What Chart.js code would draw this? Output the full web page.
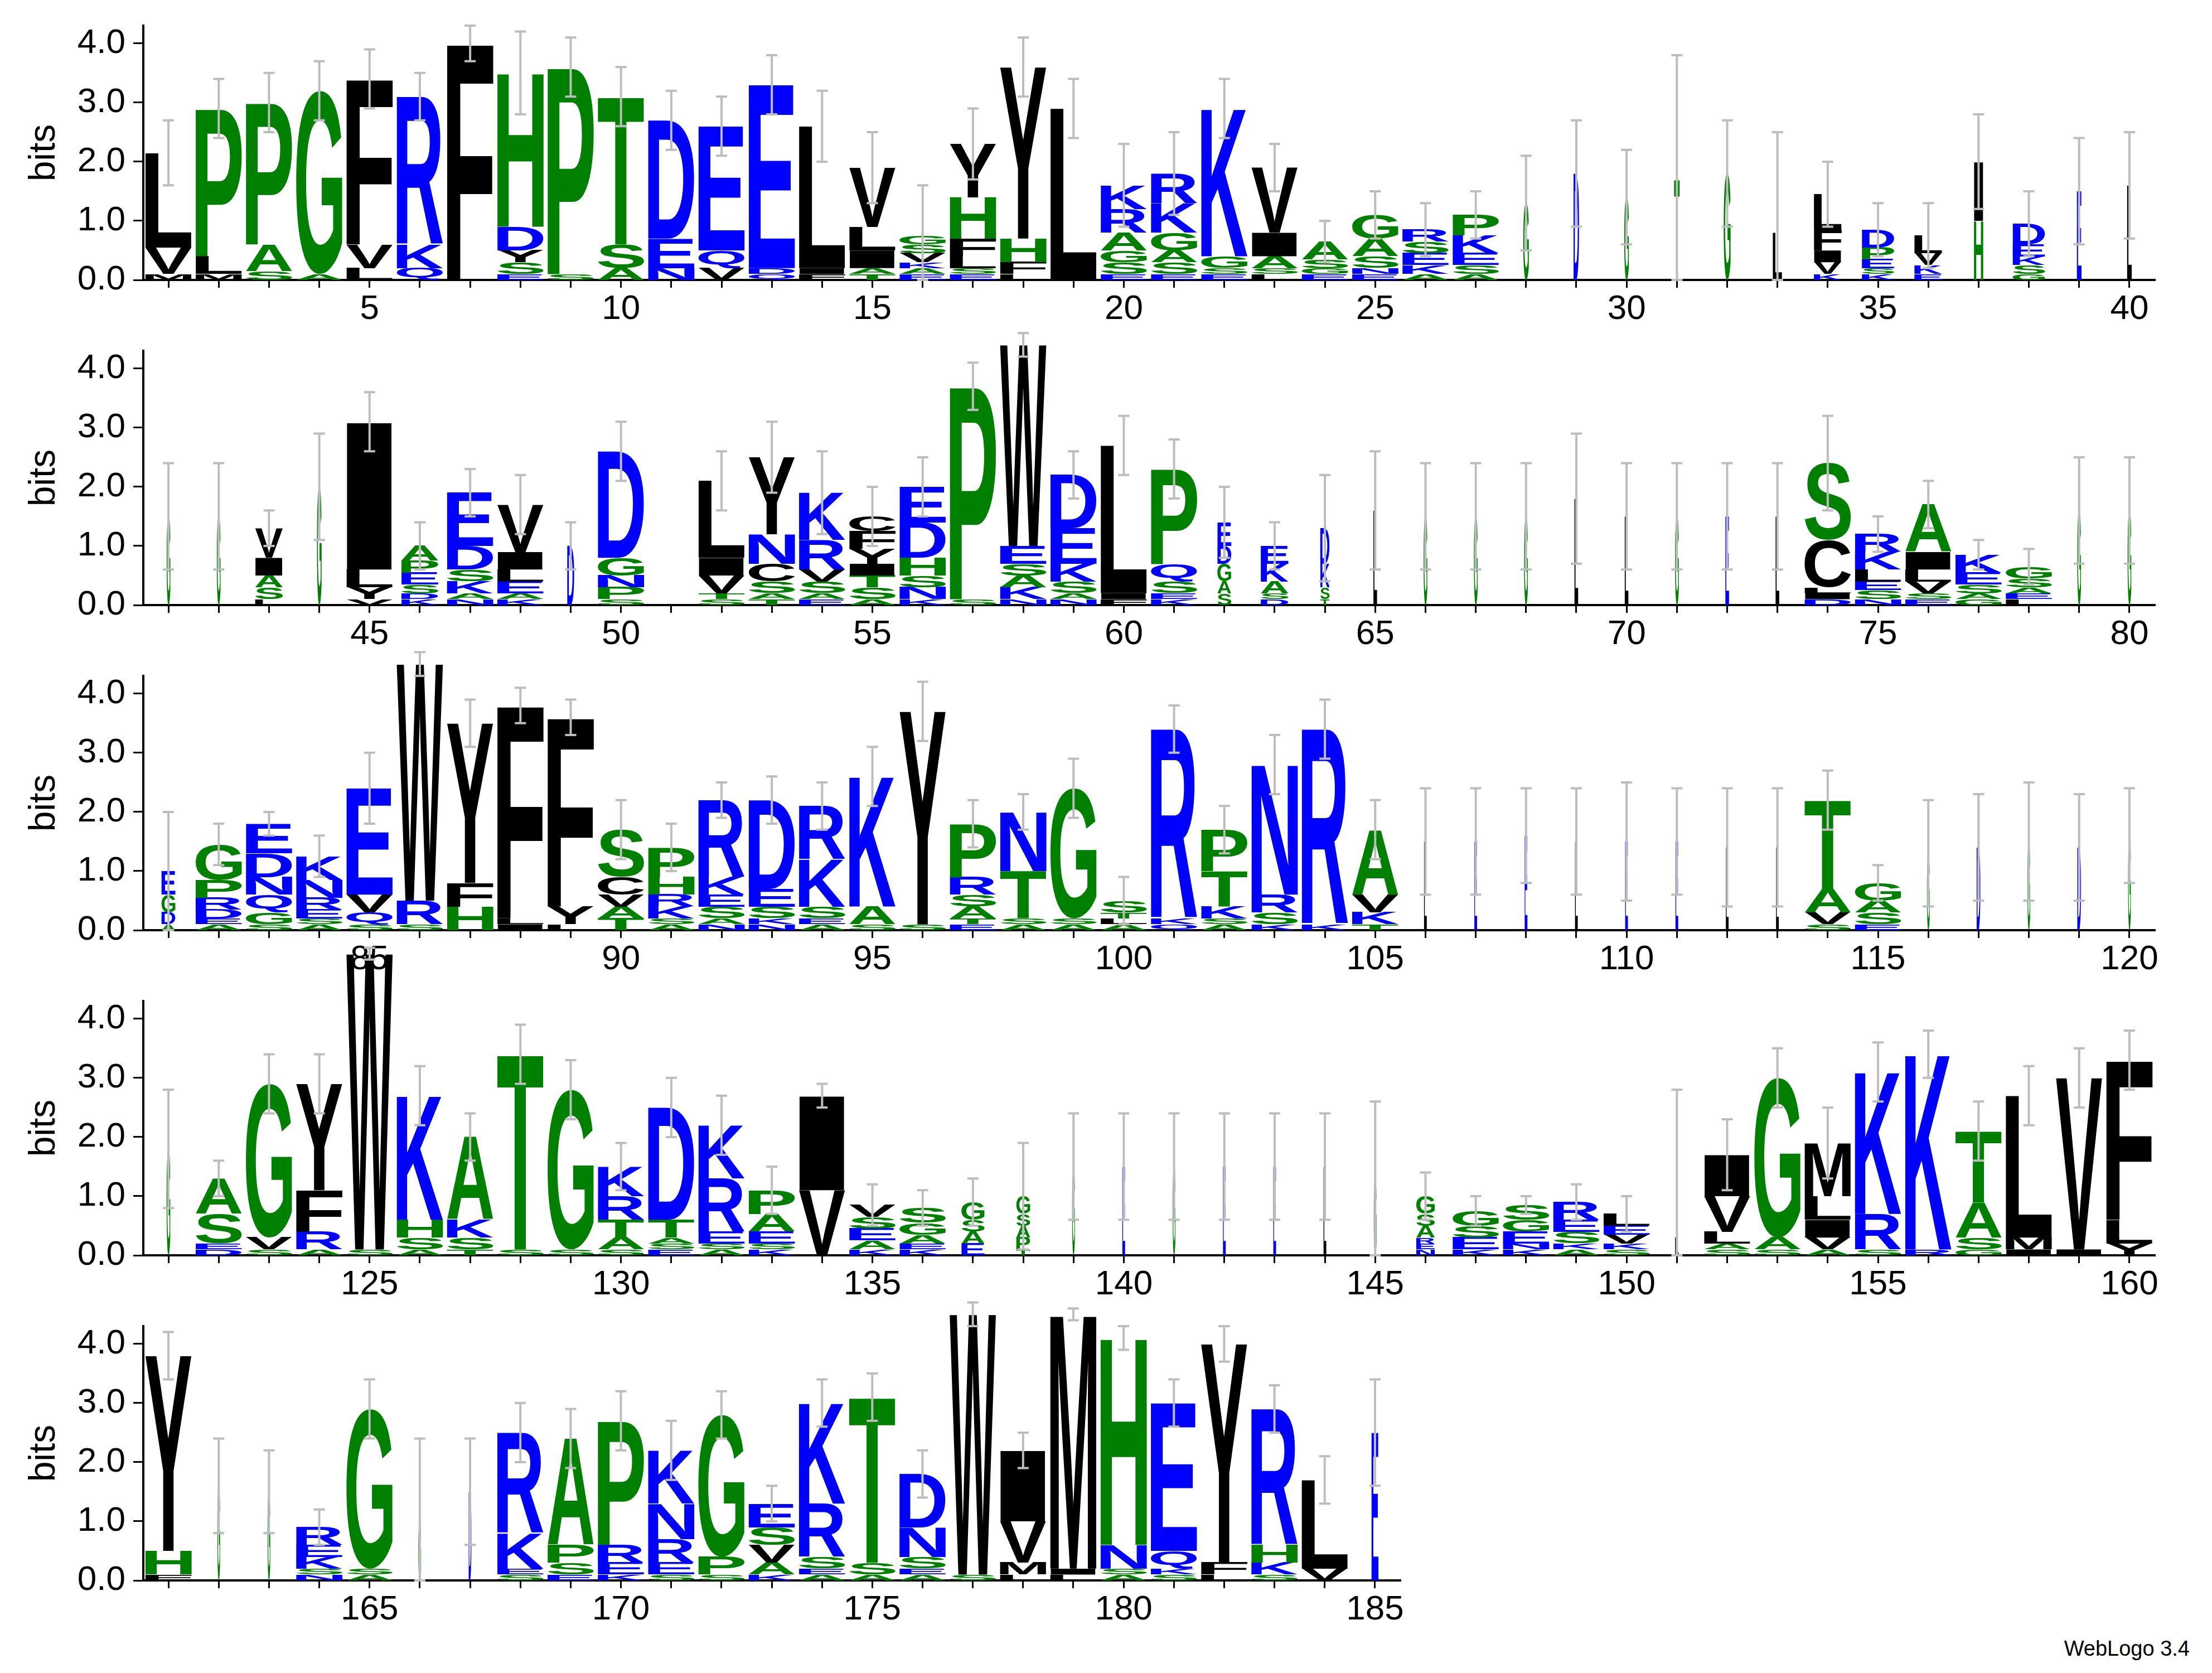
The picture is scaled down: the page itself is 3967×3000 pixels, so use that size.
<!DOCTYPE html>
<html>
<head>
<meta charset="utf-8">
<script src="https://cdn.jsdelivr.net/npm/chart.js@4.4.1/dist/chart.umd.min.js"></script>
<style>
  body { margin: 0; background: #fff; width: 3967px; height: 3000px; position: relative; overflow: hidden; }
  canvas { position: absolute; left: 0; }
  #credit { position: absolute; right: 40px; bottom: 22px; font: 38px "Liberation Sans", Arial, sans-serif; }
</style>
</head>
<body>
<div id="credit">WebLogo 3.4</div>
<script>
// each stack is written top letter first, heights in bits
const stacksRow1 = ["L1.6 V.45 M.1","P2.5 L.3 M.1","P2.4 A.45 S.15","G3.1 A.1","F2.8 V.4 L.2","R2.5 K.4 Q.2","F4.0","H2.6 D.4 Y.2 S.2 E.1","P3.5 S.1","T2.5 S.4 A.2",
  "D2.0 E.5 N.2","E2.1 Q.3 V.2","E3.1 D.1 Q.1","L2.4 I.1 F.1","V1.0 L.4 I.3 A.1 T.1","G.15 S.15 V.15 K.1 A.1 E.1","Y.9 H.7 F.3 L.2 S.1 E.1","Y2.9 H.4 F.2 L.1","L2.9","K.4 R.4 A.3 G.2 S.2 E.1",
  "R.5 K.5 G.3 A.2 S.2 E.1","K2.5 G.2 S.1 E.1","V1.1 I.4 A.2 S.1 L.1","A.3 S.15 G.1 E.1","G.4 A.3 S.2 N.1 E.1","R.2 S.2 E.2 K.15 A.1","P.35 K.3 E.2 S.15 A.1","G1.3","D1.8","G1.4",
  "T1.7","G1.8","L.8","L.6 F.35 I.2 V.2 K.1","D.3 P.2 E.15 S.1 K.1","L.3 V.2 K.15 E.1","I1.0 H1.0","D.35 E.2 K.15 S.15 G.1","E1.5","L1.6"];
const errRow1 = [2.7,3.4,3.5,3.7,3.9,3.5,4.3,4.2,4.1,3.6, 3.2,3.1,3.8,3.2,2.5,1.6,2.9,4.1,3.4,2.3, 2.5,3.4,2.3,1.0,1.5,1.3,1.5,2.1,2.7,2.2, 3.8,2.7,2.5,2.0,1.3,1.3,2.8,1.5,2.4,2.5];
const widthRow1 = [1,1,1,1,1,1,1,1,1,1, 1,1,1,1,1,1,1,1,1,1, 1,1,1,1,1,1,1,.12,.12,.1, .12,.15,.2,.6,.7,.6,.2,.7,.1,.1];

const stacksRow2 = ["G1.5","G1.5","V.5 I.3 A.2 S.2 L.1","G2.0","I2.5 L.3 Y.2 V.1","A.25 P.2 E.2 S.15 D.1 K.1","E.9 D.4 S.2 K.2 A.1 N.1","V.8 I.3 L.2 E.2 A.1 K.1","D1.0","D1.8 G.3 N.2 P.2 S.1",
  "","L1.3 I.3 V.3 T.1 S.1","Y1.3 N.5 C.3 S.2 A.1 T.1","K.8 R.5 V.2 S.2 A.1 E.1","C.25 F.3 Y.25 I.2 T.2 S.2 A.1","E.6 D.6 H.3 S.2 N.2 K.1","P3.6 S.1","W3.4 E.3 S.2 A.2 K.2 N.1","D.9 E.6 K.3 S.2 A.1 N.1","L2.5 I.1 F.1",
  "P1.6 Q.3 S.2 E.1 K.1","E.4 D.3 G.3 A.2 S.2","E.3 K.3 A.2 S.1 D.1","D.6 K.4 S.2 T.1","L1.6","G1.5","G1.5","G1.5","L1.8","L1.5",
  "G1.5","E1.5","L1.5","S1.3 C.8 L.1 I.1 D.1","R.3 K.3 L.2 E.15 S.15 N.1","A.8 I.3 L.2 V.2 S.1 E.1","K.3 E.2 S.15 A.1 G.1","G.2 S.15 A.1 E.1 L.1","G1.6","G1.6"];
const errRow2 = [2.4,2.4,1.6,2.9,3.6,1.4,2.3,2.2,1.4,3.1, 0,2.6,3.1,2.6,2.0,2.5,4.1,4.6,2.6,3.2, 2.8,2.0,1.4,2.2,2.6,2.4,2.4,2.4,2.9,2.4, 2.4,2.4,2.4,3.2,1.5,2.1,1.1,.95,2.5,2.5];
const widthRow2 = [.08,.08,.6,.1,1,.8,1,1,.15,1, 1,1,1,1,1,1,1,1,1,1, 1,.3,.6,.2,.08,.08,.08,.08,.08,.08, .08,.08,.08,1,1,1,1,1,.08,.08];

const stacksRow3 = ["E.4 G.3 D.2 A.1","G.6 P.3 R.2 D.15 E.1 A.1","E.5 D.4 N.3 Q.3 G.2 S.1","K.4 N.3 R.2 E.15 S.1 A.1","E1.8 V.3 Q.2 S.1","W4.0 R.4 S.1","Y2.7 F.4 H.4","F3.6 L.1 I.1","F3.2 Y.3 L.1","S.8 C.3 V.2 A.2 T.2",
  "P.5 H.3 R.2 K.2 S.1 A.1","R1.3 K.3 E.2 S.2 A.1 N.1","D1.5 E.3 S.2 K.1 N.1","R.9 K.8 S.2 E.1 A.1","K2.2 A.3 S.1","Y3.6 S.1","P.9 R.3 S.2 A.2 T.1 E.1","N1.0 T.8 S.1 A.1","G2.2 S.1 A.1","S.2 T.1 L.1 A.1",
  "R3.2 K.1 Q.1","P.7 T.6 K.2 S.1 A.1","N2.2 R.3 S.2 K.1","R3.3 K.1","A1.1 V.3 K.2 T.1","L1.5","E1.5","E1.6","L1.5","E1.5",
  "E1.5","L1.4","L1.4","T1.5 A.4 V.2 S.1","G.3 A.2 S.2 E.1","G1.3","D1.4","G1.5","D1.4","G1.6"];
const errRow3 = [2.0,1.8,2.0,1.6,3.0,4.7,3.9,4.1,3.9,2.2, 1.8,2.5,2.6,2.5,3.1,4.2,2.2,2.3,2.9,.9, 3.8,2.1,3.3,3.9,2.2,2.4,2.4,2.4,2.4,2.5, 2.4,2.4,2.4,2.7,1.1,2.2,2.3,2.5,2.3,2.4];
const widthRow3 = [.3,1,1,1,1,1,1,1,1,1, 1,1,1,1,1,1,1,1,1,1, 1,1,1,1,1,.06,.06,.06,.06,.06, .06,.06,.06,1,1,.06,.08,.06,.08,.06];

const stacksRow4 = ["G1.8","A.6 S.5 E.1 D.1","G2.6 V.2 S.1","Y1.8 F.7 R.3 A.1","W5.0 S.1","K2.1 H.3 S.2 A.1","A1.4 K.3 S.2 T.1","T3.3 S.1","G2.7 S.1","K.5 R.4 T.3 A.2 S.1",
  "D1.9 T.3 A.1 S.1 E.1","K.9 R.9 E.2 S.1 A.1","P.4 A.3 E.2 S.1 K.1","I1.6 V1.1","V.2 S.2 E.2 A.15 K.1","S.25 G.2 A.15 E.1 K.1","G.3 S.2 A.2 E.2","G.3 S.2 A.2 P.2 T.1","G1.5","E1.5",
  "G1.5","E1.5","E1.5","L1.5","G1.3","G.3 S.2 A.2 R.1 E.1 N.1","G.25 S.2 E.2 K.1","S.25 G.2 E.2 N.1 K.1","R.3 E.2 S.2 K.1 A.1","L.2 E.15 V.15 K.1 S.1",
  "L.3","I.7 V.6 L.2 A.1 S.1","G2.7 A.2 S.1","M.9 L.4 I.3 V.2 A.1","K2.4 R.6 S.1","K3.3 R.1","T1.2 A.6 S.2 G.1","L2.4 M.2 I.1","V2.9 I.1","F2.7 L.4 Y.2"];
const errRow4 = [2.8,1.6,3.4,3.4,5.2,3.2,2.4,3.9,3.3,1.9, 3.0,2.7,1.5,2.9,1.2,1.1,1.3,1.9,2.4,2.4, 2.4,2.4,2.4,2.4,2.6,1.4,1.0,1.0,1.2,1.0, 2.8,2.3,3.5,2.5,3.6,3.8,2.6,3.2,3.5,3.8];
const widthRow4 = [.08,1,1,1,1,1,1,1,1,1, 1,1,1,1,1,1,.5,.3,.06,.06, .06,.06,.06,.06,.06,.4,1,1,1,1, .08,1,1,1,1,1,1,1,1,1];

const stacksRow5 = ["Y3.3 H.4 F.1","G1.6","G1.5","R.3 E.2 K.2 S.1 N.1","G2.7 S.1 A.1","G1.0","D1.5","R1.7 K.6 E.1 S.1","A1.8 P.3 S.2 E.1","P2.1 R.3 E.2 K.1",
  "K.9 N.6 R.4 E.2 S.1","G2.4 P.3 S.1","E.4 S.3 V.3 A.2 K.1","K1.7 R.9 S.2 E.1 A.1","T2.8 S.2 A.1","D.9 N.5 S.2 E.1 A.1","W4.4 S.1","I1.2 V.7 M.2 L.1","M4.3 I.1 L.1","H3.5 N.4 S.1 A.1",
  "E2.5 Q.3 K.1 S.1","Y3.7 F.2 L.1","R2.3 H.3 K.2 S.1","L1.5 V.2","E2.5"];
const errRow5 = [4.2,2.4,2.2,1.2,3.4,2.4,2.4,3.0,2.9,3.2, 2.7,3.2,1.6,3.4,3.5,2.2,4.7,2.5,4.6,4.3, 3.4,4.3,3.3,2.1,3.4];
const widthRow5 = [1,.06,.06,1,1,.06,.06,1,1,1, 1,1,1,1,1,1,1,1,1,1, 1,1,1,1,.15];

const rowStarts = [1, 41, 81, 121, 161];
const rowLengths = [40, 40, 40, 40, 25];

const colors = {};
'RKDENQ'.split('').forEach(c => colors[c] = '#0000ff');
'SGHTAP'.split('').forEach(c => colors[c] = '#008000');
'YVMCLFIW'.split('').forEach(c => colors[c] = '#000000');

const rows = [
  { stacks: stacksRow1, err: errRow1, width: widthRow1 },
  { stacks: stacksRow2, err: errRow2, width: widthRow2 },
  { stacks: stacksRow3, err: errRow3, width: widthRow3 },
  { stacks: stacksRow4, err: errRow4, width: widthRow4 },
  { stacks: stacksRow5, err: errRow5, width: widthRow5 }
];

function parseStack(s) {
  if (!s) return [];
  return s.split(' ').map(t => ({ ch: t[0], h: parseFloat(t.slice(1)) })).reverse();
}

function drawLetter(ctx, ch, x0, x1, yTop, yBot, color) {
  if (yBot - yTop < 0.5) return;
  ctx.font = 'bold 200px "Liberation Sans", Arial, sans-serif';
  const m = ctx.measureText(ch);
  const gw = m.actualBoundingBoxLeft + m.actualBoundingBoxRight;
  const gh = m.actualBoundingBoxAscent + m.actualBoundingBoxDescent;
  ctx.save();
  ctx.translate(x0, yTop);
  ctx.scale((x1 - x0) / gw, (yBot - yTop) / gh);
  ctx.fillStyle = color;
  ctx.textBaseline = 'alphabetic';
  ctx.fillText(ch, m.actualBoundingBoxLeft, m.actualBoundingBoxAscent);
  ctx.restore();
}

const logoPlugin = {
  id: 'logo',
  afterDatasetsDraw(chart) {
    const row = chart.options.plugins.logo.row;
    const start = chart.options.plugins.logo.start;
    const ctx = chart.ctx;
    const xs = chart.scales.x, ys = chart.scales.y;
    row.stacks.forEach((s, i) => {
      const pos = start + i;
      const half = 0.46 * row.width[i];
      const x0 = xs.getPixelForValue(pos - half), x1 = xs.getPixelForValue(pos + half);
      let base = 0;
      parseStack(s).forEach(l => {
        drawLetter(ctx, l.ch, x0, x1, ys.getPixelForValue(base + l.h), ys.getPixelForValue(base), colors[l.ch]);
        base += l.h;
      });
      const top = row.err[i];
      if (top > base) {
        const low = Math.max(0, 2 * base - top);
        const xc = xs.getPixelForValue(pos);
        const yA = ys.getPixelForValue(low), yB = ys.getPixelForValue(top);
        ctx.save();
        ctx.strokeStyle = '#bdbdbd';
        ctx.lineWidth = 4;
        ctx.beginPath();
        ctx.moveTo(xc, yA); ctx.lineTo(xc, yB);
        ctx.moveTo(xc - 10, yA); ctx.lineTo(xc + 10, yA);
        ctx.moveTo(xc - 10, yB); ctx.lineTo(xc + 10, yB);
        ctx.stroke();
        ctx.restore();
      }
    });
  }
};

const tickFont = { family: '"Liberation Sans", Arial, sans-serif', size: 62 };

rows.forEach((row, k) => {
  const canvas = document.createElement('canvas');
  canvas.width = 3967;
  canvas.height = 638;
  canvas.style.top = (k * 583 - 54) + 'px';
  document.body.appendChild(canvas);
  const start = rowStarts[k];
  const totals = row.stacks.map(s => parseStack(s).reduce((a, l) => a + l.h, 0));
  new Chart(canvas.getContext('2d'), {
    type: 'bar',
    data: {
      datasets: [{
        data: totals.map((t, i) => ({ x: start + i, y: t })),
        backgroundColor: 'rgba(0,0,0,0)'
      }]
    },
    options: {
      responsive: false,
      animation: false,
      devicePixelRatio: 1,
      layout: { padding: { top: 100, left: 40, right: k === 4 ? 1456 : 103, bottom: 0 } },
      plugins: {
        legend: { display: false },
        tooltip: { enabled: false },
        logo: { row: row, start: start }
      },
      scales: {
        x: {
          type: 'linear',
          offset: false,
          min: start - 0.5,
          max: start + rowLengths[k] - 0.5,
          afterFit: s => { s.height = 82; },
          afterBuildTicks: s => {
            const t = [];
            for (let v = start; v < start + rowLengths[k]; v++) t.push({ value: v });
            s.ticks = t;
          },
          ticks: {
            autoSkip: false, maxRotation: 0, color: '#000', font: tickFont, padding: 2,
            callback: v => (v % 5 === 0 ? String(v) : '')
          },
          grid: { offset: false, drawOnChartArea: false, drawTicks: true, tickLength: 14, color: '#000', lineWidth: 3 },
          border: { color: '#000', width: 4 }
        },
        y: {
          min: 0,
          max: 4.3,
          afterFit: s => { s.width = 217; },
          afterBuildTicks: s => {
            const t = [];
            for (let v = 0; v <= 4.0001; v += 0.5) t.push({ value: Math.round(v * 10) / 10 });
            s.ticks = t;
          },
          ticks: {
            color: '#000', font: tickFont, padding: 14,
            callback: v => (Number.isInteger(v) ? v.toFixed(1) : '')
          },
          grid: { drawOnChartArea: false, drawTicks: true, tickLength: 18, color: '#000', lineWidth: 3 },
          border: { color: '#000', width: 4 },
          title: { display: true, text: 'bits', color: '#000', font: { family: '"Liberation Sans", Arial, sans-serif', size: 66 }, padding: 0 }
        }
      }
    },
    plugins: [logoPlugin]
  });
});
</script>
</body>
</html>
